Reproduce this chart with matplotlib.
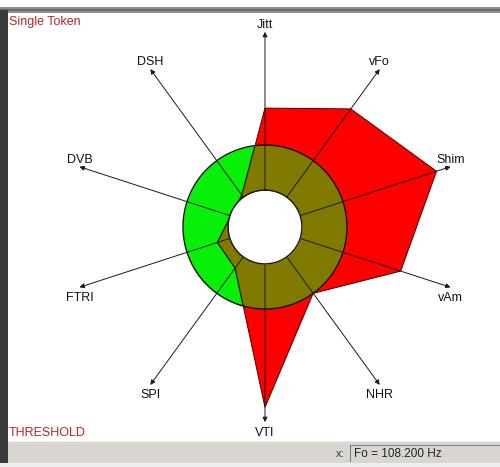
import numpy as np
import matplotlib
matplotlib.use("Agg")
import matplotlib.pyplot as plt
from matplotlib.patches import Rectangle

plt.rcParams['font.family'] = ['Liberation Sans', 'DejaVu Sans']

# parameters, clockwise from the top
params = ['Jitt', 'vFo', 'Shim', 'vAm', 'NHR', 'VTI', 'SPI', 'FTRI', 'DVB', 'DSH']
# patient values, normalised so that the threshold circle is 1.0
values = [1.45, 1.78, 2.20, 1.74, 1.00, 2.20, 0.62, 0.61, 0.44, 0.48]
threshold = 1.0
inner_r = 0.45
axis_len = 2.38
status_text = 'Fo = 108.200 Hz'

W, H = 500, 467
RED = '#ff0000'
GREEN = '#08ef08'
OLIVE = '#807a00'


def px_rect(x, y, w, h, color, **kw):
    # rectangle given in image pixels (y down from the top)
    return Rectangle((x / W, 1 - (y + h) / H), w / W, h / H,
                     transform=fig.transFigure, color=color, lw=0, **kw)


fig = plt.figure(figsize=(W / 100, H / 100), dpi=100)
fig.patch.set_facecolor('white')

# window chrome around the plot
fig.add_artist(px_rect(0, 7, W, 6, '#8d8d8a'))
fig.add_artist(px_rect(0, 9, W, 2, '#6a6a68'))
fig.add_artist(px_rect(0, 10, 8, 453, '#3a3a3a'))
fig.add_artist(px_rect(8, 441, W - 8, 22, '#d9d6cf'))
fig.add_artist(px_rect(8, 441, W - 8, 1, '#f2f1ee'))
fig.add_artist(px_rect(350, 445, 1, 17, '#7a7a78'))
fig.add_artist(px_rect(350, 445, W - 350, 1, '#7a7a78'))
fig.add_artist(px_rect(0, 463, W, 4, '#efefef'))

fig.text(9 / W, 1 - 22 / H, 'Single Token', color='#b5262b', fontsize=9,
         ha='left', va='center')
fig.text(9 / W, 1 - 433 / H, 'THRESHOLD', color='#b5262b', fontsize=9,
         ha='left', va='center')
fig.text(336 / W, 1 - 454 / H, 'x:', color='#333333', fontsize=8,
         ha='left', va='center')
fig.text(354 / W, 1 - 454 / H, status_text, color='#222222', fontsize=8.5,
         ha='left', va='center')

# polar axes centred on (265, 227) px, 82 px per threshold unit
rmax = 2.5
rad_px = rmax * 82
ax = fig.add_axes([(265 - rad_px) / W, (H - 227 - rad_px) / H,
                   2 * rad_px / W, 2 * rad_px / H], projection='polar')
ax.set_theta_zero_location('N')
ax.set_theta_direction(-1)
ax.set_ylim(0, rmax)
ax.grid(False)
ax.set_xticks([])
ax.set_yticks([])
ax.spines['polar'].set_visible(False)
ax.patch.set_alpha(0)

theta = np.linspace(0, 2 * np.pi, len(params), endpoint=False)
tt = np.linspace(0, 2 * np.pi, 361)

# threshold ring
ring = ax.fill_between(tt, inner_r, threshold, color=GREEN, lw=0, zorder=1)

# patient polygon
poly = ax.fill(theta, values, facecolor=RED, edgecolor='#4a0000', lw=0.7,
               zorder=2)[0]

# overlap of ring and polygon
overlap = ax.fill_between(tt, inner_r, threshold, color=OLIVE, lw=0, zorder=3)
overlap.set_clip_path(poly)

# polygon edge inside the ring
edge, = ax.plot(np.append(theta, theta[0]), np.append(values, values[0]),
                color='#1f2a00', lw=0.8, zorder=4)
edge.set_clip_path(ring.get_paths()[0], ax.transData)

ax.plot(tt, np.full_like(tt, threshold), color='#101010', lw=1.0, zorder=5)

# axes with arrows
for th, name in zip(theta, params):
    ax.annotate('', xy=(th, axis_len), xytext=(th, inner_r),
                arrowprops=dict(arrowstyle='-|>', color='#1a1a1a', lw=0.7,
                                mutation_scale=7, shrinkA=0, shrinkB=0),
                zorder=6)
    up = np.cos(th) > -1e-6
    dy = 5 if up else -7.5
    ax.annotate(name, xy=(th, axis_len), xytext=(0, dy),
                textcoords='offset points', ha='center', va='center',
                fontsize=9, color='#111111', annotation_clip=False)

# white centre
ax.fill_between(tt, 0, inner_r, color='white', lw=0, zorder=7)
ax.plot(tt, np.full_like(tt, inner_r), color='#151515', lw=1.0, zorder=8)

fig.savefig('out.png', dpi=100)
